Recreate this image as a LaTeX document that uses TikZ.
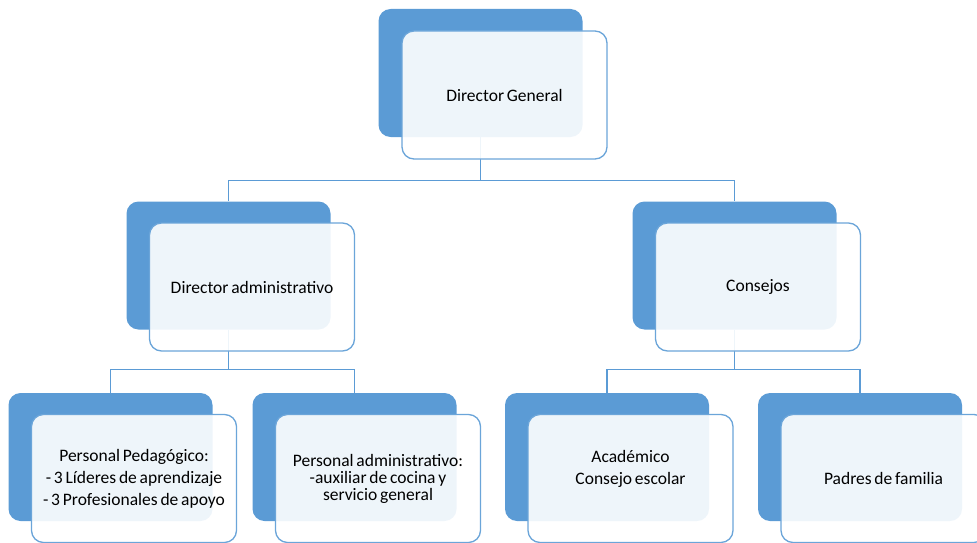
\documentclass[tikz,border=0pt]{standalone}
\usepackage{fontspec}
\setmainfont{Carlito}[WordSpace=0.7]
\definecolor{orgblue}{HTML}{5B9BD5}
\begin{document}
\begin{tikzpicture}[x=1pt, y=-1pt,
    back/.style = {fill=orgblue, rounded corners=12pt, minimum width=204pt, minimum height=128pt, inner sep=0pt},
    front/.style = {draw=orgblue!90, line width=1.3pt, fill=white, fill opacity=0.9, text opacity=1, rounded corners=12pt, minimum width=205pt, minimum height=128pt, inner sep=0pt, align=center, font=\fontsize{17.5}{22}\selectfont},
    link/.style = {draw=orgblue, line width=1.2pt}]
	\useasboundingbox (0,0) rectangle (977,543);
	
	% back boxes
	\node[back] (dgb) at (480.5,73) {};
	\node[back] (dab) at (228.5,265.5) {};
	\node[back] (cob) at (734.5,265.5) {};
	\node[back] (ppb) at (110.5,457) {};
	\node[back] (pab) at (354.5,457) {};
	\node[back] (acb) at (607,457) {};
	\node[back] (pfb) at (860,457) {};
	
	% connectors
	\draw[link] (dgb.south) -- ++(0,43) -| (dab.north);
	\draw[link] (dgb.south) -- ++(0,43) -| (cob.north);
	\draw[link] (dab.south) -- ++(0,40) -| (ppb.north);
	\draw[link] (dab.south) -- ++(0,40) -| (pab.north);
	\draw[link] (cob.south) -- ++(0,40) -| (acb.north);
	\draw[link] (cob.south) -- ++(0,40) -| (pfb.north);
	
	% front boxes
	\node[front] (dg) at ([shift={(24,22)}]dgb.center) {Director General};
	\node[front] (da) at ([shift={(23.5,21.5)}]dab.center) {Director administrativo};
	\node[front] (co) at ([shift={(23.5,21.5)}]cob.center) {Consejos};
	\node[front] (pp) at ([shift={(23.5,21.5)}]ppb.center) {Personal Pedagógico:\\- 3 Líderes de aprendizaje\\- 3 Profesionales de apoyo};
	\node[front] (pa) at ([shift={(23.5,21.5)}]pab.center) {Personal administrativo:\\[-5pt]-auxiliar de cocina y\\[-5pt]servicio general};
	\node[front] (ac) at ([shift={(23.5,21.5)}]acb.center) {Académico\\Consejo escolar\\\mbox{}};
	\node[front] (pf) at ([shift={(23.5,21.5)}]pfb.center) {Padres de familia};
\end{tikzpicture}
\end{document}
